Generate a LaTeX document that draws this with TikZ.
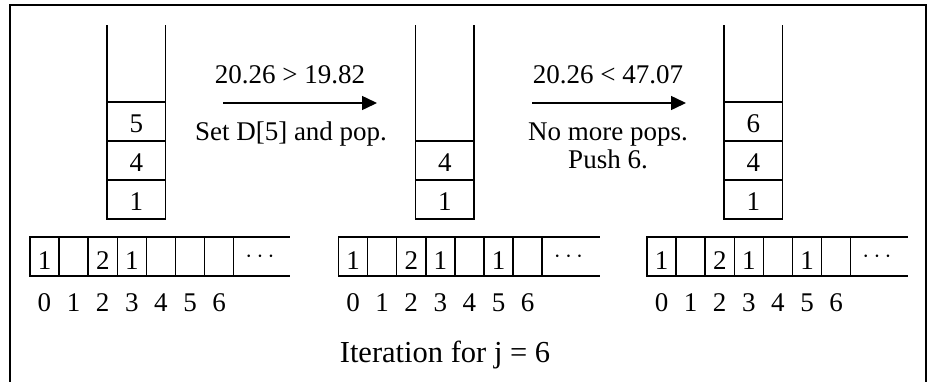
\documentclass[tikz,border=0pt]{standalone}
\usepackage{fontspec}
\setmainfont{Liberation Serif}
\usetikzlibrary{arrows.meta}
\begin{document}
\begin{tikzpicture}[x=1pt,y=-1pt,line width=1.5pt,
  font=\fontsize{27}{32}\selectfont,
  scell/.style={draw,rectangle,minimum width=58.5pt,minimum height=39pt,inner sep=0pt,outer sep=0pt,anchor=north west,text height=21pt,text depth=0pt},
  acell/.style={draw,rectangle,minimum width=29.1pt,minimum height=39pt,inner sep=0pt,outer sep=0pt,anchor=north west,text height=25pt,text depth=0pt},
  txt/.style={inner sep=0pt,anchor=base},
  arr/.style={-{Triangle[length=15pt,width=14pt]},line width=1.5pt}]
\useasboundingbox (0,0) rectangle (927,381);
% frame
\coordinate (fbl) at (10,382);
\coordinate (ftl) at (10,5);
\coordinate (ftr) at (926,5);
\coordinate (fbr) at (926,382);
\draw (fbl) -- (ftl) -- (ftr) -- (fbr);
% stack 1
\node[scell] (s1a) at (107,180) {1};
\node[scell] (s1b) at (107,141) {4};
\node[scell] (s1c) at (107,102) {5};
\coordinate (s1l) at (107,25);
\coordinate (s1r) at (165.5,25);
\draw (s1c.north west) -- (s1l);
\draw (s1c.north east) -- (s1r);
% stack 2
\node[scell] (s2a) at (415.5,180) {1};
\node[scell] (s2b) at (415.5,141) {4};
\coordinate (s2l) at (415.5,25);
\coordinate (s2r) at (474,25);
\draw (s2b.north west) -- (s2l);
\draw (s2b.north east) -- (s2r);
% stack 3
\node[scell] (s3a) at (724,180) {1};
\node[scell] (s3b) at (724,141) {4};
\node[scell] (s3c) at (724,102) {6};
\coordinate (s3l) at (724,25);
\coordinate (s3r) at (782.5,25);
\draw (s3c.north west) -- (s3l);
\draw (s3c.north east) -- (s3r);
% arrays
\foreach \k/\x/\e/\vals in {1/30/290/{1,,2,1,,,},2/338.5/600/{1,,2,1,,1,},3/647/908/{1,,2,1,,1,}}{
  \foreach \v [count=\j from 0] in \vals {
    \node[acell] (a\k c\j) at (\x+29.1*\j,237) {\v};
    \node[txt] (a\k i\j) at (\x+14.5+29.1*\j,311) {\j};
  }
  \coordinate (a\k et) at (\e,237);
  \coordinate (a\k eb) at (\e,276);
  \draw (a\k c6.north east) -- (a\k et);
  \draw (a\k c6.south east) -- (a\k eb);
  \node[txt] (a\k d) at (\x+230,262) {$\cdots$};
}
% arrows and labels
\coordinate (ar1s) at (223,103);
\coordinate (ar1e) at (377,103);
\draw[arr] (ar1s) -- (ar1e);
\node[txt] (t1) at (290,83) {20.26 > 19.82};
\node[txt] (t2) at (291,140) {Set D[5] and pop.};
\coordinate (ar2s) at (532,103);
\coordinate (ar2e) at (686,103);
\draw[arr] (ar2s) -- (ar2e);
\node[txt] (t3) at (608,83) {20.26 < 47.07};
\node[txt] (t4) at (608,140) {No more pops.};
\node[txt] (t5) at (608,168) {Push 6.};
\node[txt,font=\fontsize{30.5}{36}\selectfont] (t6) at (445,362) {Iteration for j = 6};
\end{tikzpicture}
\end{document}
